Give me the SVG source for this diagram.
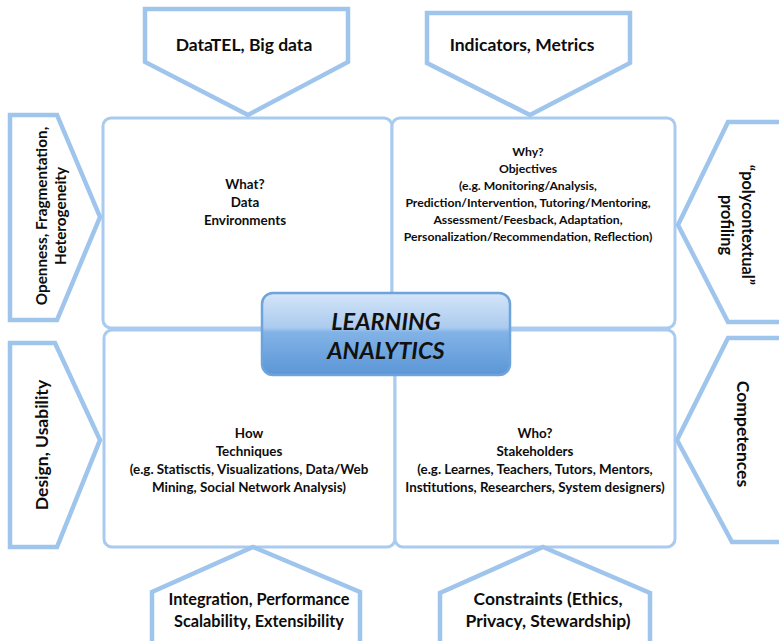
<svg xmlns="http://www.w3.org/2000/svg" width="779" height="641" viewBox="0 0 779 641">
<defs>
<style>
.arrow{fill:#ffffff;stroke:#a0c5ec;stroke-width:4.5;stroke-linejoin:miter}
.quad{fill:#ffffff;stroke:#a8cbef;stroke-width:3}
.t{font-family:Lato,"Liberation Sans",sans-serif;font-weight:bold;fill:#0d0d0d;text-anchor:middle}
.big{font-size:17.5px}
.mid{font-size:16.3px}
.small{font-size:13.4px}
.tiny{font-size:12.2px}
.center{font-family:Lato,"Liberation Sans",sans-serif;font-weight:bold;font-style:italic;font-size:23.5px;fill:#111;text-anchor:middle}
</style>
<linearGradient id="gl" x1="0" y1="0" x2="0" y2="1">
<stop offset="0" stop-color="#d4e5f8"/>
<stop offset="0.42" stop-color="#abcbef"/>
<stop offset="0.48" stop-color="#82b3e6"/>
<stop offset="1" stop-color="#5b96d7"/>
</linearGradient>
</defs>
<rect width="779" height="641" fill="#ffffff"/>
<g id="quadrants">
<rect id="q-what" class="quad" x="103" y="118" width="289" height="210" rx="8"/>
<rect id="q-why" class="quad" x="392" y="118" width="283" height="210" rx="8"/>
<rect id="q-how" class="quad" x="104" y="330" width="291" height="217" rx="8"/>
<rect id="q-who" class="quad" x="395" y="330" width="280" height="217" rx="8"/>
</g>
<g id="what">
<text class="t small" x="245" y="189">What?</text>
<text class="t small" x="245" y="207">Data</text>
<text class="t small" x="245" y="225">Environments</text>
</g>
<g id="why">
<text class="t tiny" x="528" y="156">Why?</text>
<text class="t tiny" x="528" y="173">Objectives</text>
<text class="t tiny" x="528" y="190">(e.g. Monitoring/Analysis,</text>
<text class="t tiny" x="528" y="207">Prediction/Intervention, Tutoring/Mentoring,</text>
<text class="t tiny" x="528" y="224">Assessment/Feesback, Adaptation,</text>
<text class="t tiny" x="528" y="241">Personalization/Recommendation, Reflection)</text>
</g>
<g id="how">
<text class="t small" x="249" y="438">How</text>
<text class="t small" x="249" y="456">Techniques</text>
<text class="t small" x="249" y="474">(e.g. Statisctis, Visualizations, Data/Web</text>
<text class="t small" x="249" y="492">Mining, Social Network Analysis)</text>
</g>
<g id="who">
<text class="t small" x="535" y="438">Who?</text>
<text class="t small" x="535" y="456">Stakeholders</text>
<text class="t small" x="535" y="474">(e.g. Learnes, Teachers, Tutors, Mentors,</text>
<text class="t small" x="535" y="492">Institutions, Researchers, System designers)</text>
</g>
<g id="learning-analytics">
<rect x="262" y="293" width="248" height="82" rx="11" fill="url(#gl)" stroke="#6fa3dc" stroke-width="2.5"/>
<text class="center" x="386" y="330">LEARNING</text>
<text class="center" x="386" y="359">ANALYTICS</text>
</g>
<g id="datatel">
<polygon class="arrow" points="145,9 348,9 348,62 248,115 145,62"/>
<text class="t big" x="244" y="51">DataTEL, Big data</text>
</g>
<g id="indicators">
<polygon class="arrow" points="427,13 630,13 630,63 530,115 427,63"/>
<text class="t big" x="522" y="51">Indicators, Metrics</text>
</g>
<g id="openness">
<polygon class="arrow" points="10,115 57,115 100,217 57,320 10,320"/>
<text class="t" style="font-size:15.3px" transform="translate(47,216) rotate(-90)">Openness, Fragmentation,</text>
<text class="t" style="font-size:15.3px" transform="translate(66,216) rotate(-90)">Heterogeneity</text>
</g>
<g id="design">
<polygon class="arrow" points="10,343 55,343 100,440 57,547 10,547"/>
<text class="t big" transform="translate(48,445) rotate(-90)">Design, Usability</text>
</g>
<g id="polycontextual">
<polygon class="arrow" points="782,122 728,122 678,225 728,322 782,322"/>
<text class="t mid" transform="translate(742,225) rotate(90)">“polycontextual”</text>
<text class="t mid" transform="translate(721,225) rotate(90)">profiling</text>
</g>
<g id="competences">
<polygon class="arrow" points="782,338 728,338 677,440 732,542 782,542"/>
<text class="t big" transform="translate(737,434) rotate(90)">Competences</text>
</g>
<g id="integration">
<polygon class="arrow" points="253,547 360,592 360,645 152,645 152,592"/>
<text class="t mid" x="259" y="605">Integration, Performance</text>
<text class="t mid" x="259" y="627">Scalability, Extensibility</text>
</g>
<g id="constraints">
<polygon class="arrow" points="543,547 650,593 650,645 440,645 440,593"/>
<text class="t big" x="548" y="605">Constraints (Ethics,</text>
<text class="t big" x="548" y="627">Privacy, Stewardship)</text>
</g>
<g id="connectors"></g>
</svg>
